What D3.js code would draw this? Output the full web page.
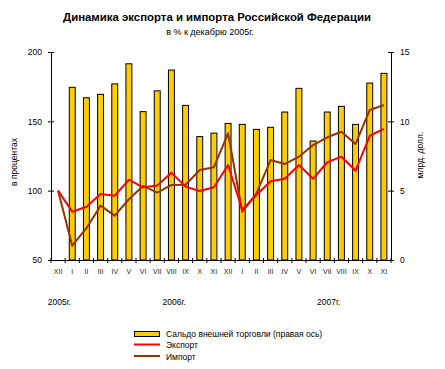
<!DOCTYPE html>
<html><head><meta charset="utf-8">
<script src="https://cdn.jsdelivr.net/npm/d3@7"></script>
<style>body{margin:0;background:#fff}svg{display:block;font-family:"Liberation Sans",Arial,sans-serif}</style>
</head><body>
<script>
const months = ["XII","I","II","III","IV","V","VI","VII","VIII","IX","X","XI","XII","I","II","III","IV","V","VI","VII","VIII","IX","X","XI"];
const yearLabels = [{label:"2005г.", idx:0.6},{label:"2006г.", idx:8.7},{label:"2007г.", idx:19.6}];
// trade balance, bn USD (right axis), from Jan 2006
const balance = [null,12.45,11.7,11.95,12.7,14.15,10.7,12.2,13.7,11.15,8.9,9.15,9.85,9.78,9.42,9.57,10.67,12.38,8.58,10.67,11.08,9.78,12.76,13.46];
const exportIdx = [100,84.8,88.4,97.6,96.4,107.9,102.4,103.8,113,102.9,99.8,102.4,118.5,86.1,96.9,106.8,108.6,118.5,108.6,120.5,124.5,114.4,139.6,144.5];
const importIdx = [100,60.3,72.9,89.2,82.0,93.8,103.4,98.6,104.1,104.3,114.9,116.9,141.4,84.8,98.1,122.1,119.2,124.5,132.9,138.5,142.5,133.7,158.2,161.8];
const leftTicks = [50,100,150,200];
const rightTicks = [0,5,10,15];

const W=445,H=369;
const svg=d3.select("body").append("svg").attr("width",W).attr("height",H);
const L=51,R=391,T=52,B=260;
const idx=d3.range(months.length);
const x=d3.scaleBand().domain(idx).range([L,R]).padding(0);
const xb=d3.scaleBand().domain(idx).range([L,R]).paddingInner(0.58).paddingOuter(0.29);
const yL=d3.scaleLinear().domain([50,200]).range([B,T]);
const yR=d3.scaleLinear().domain([0,15]).range([B,T]);

// title
svg.append("text").attr("x",217).attr("y",21).attr("text-anchor","middle").attr("font-size","11.4px").attr("font-weight","bold").text("Динамика экспорта и импорта Российской Федерации");
svg.append("text").attr("x",210).attr("y",35).attr("text-anchor","middle").attr("font-size","9px").text("в % к декабрю 2005г.");

// bars
svg.append("g").selectAll("rect").data(idx.filter(i=>balance[i]!=null)).join("rect")
 .attr("x",i=>xb(i)).attr("width",xb.bandwidth()).attr("y",i=>yR(balance[i])).attr("height",i=>yR(0)-yR(balance[i]))
 .attr("fill","#ffcc00").attr("stroke","#000").attr("stroke-width",1);

// lines
const line=arr=>d3.line().x((d,i)=>x(i)+x.bandwidth()/2).y(d=>yL(d))(arr);
svg.append("path").attr("d",line(importIdx)).attr("fill","none").attr("stroke","#993300").attr("stroke-width",2).attr("stroke-linejoin","round");
svg.append("path").attr("d",line(exportIdx)).attr("fill","none").attr("stroke","#ff0000").attr("stroke-width",2).attr("stroke-linejoin","round");

// axes
const gl=svg.append("g").attr("transform",`translate(${L},0)`).call(d3.axisLeft(yL).tickValues(leftTicks).tickSize(3).tickSizeOuter(0).tickPadding(6));
gl.selectAll(".tick line").attr("x2",3).attr("x1",-3);
const gr=svg.append("g").attr("transform",`translate(${R},0)`).call(d3.axisRight(yR).tickValues(rightTicks).tickSize(3).tickSizeOuter(0).tickPadding(6));
gr.selectAll(".tick line").attr("x1",-3).attr("x2",3);
[gl,gr].forEach(g=>{g.selectAll("text").attr("font-size","8.5px").attr("font-family","Liberation Sans, Arial, sans-serif").attr("fill","#000");g.select(".domain").attr("stroke","#000");g.selectAll(".tick line").attr("stroke","#000");});

// bottom axis with ticks between categories
const gb=svg.append("g");
gb.append("line").attr("x1",L-3).attr("x2",R+3).attr("y1",B+0.5).attr("y2",B+0.5).attr("stroke","#000");
gb.selectAll("line.t").data(d3.range(months.length+1)).join("line").attr("class","t")
 .attr("x1",i=>i<months.length?x(i):R).attr("x2",i=>i<months.length?x(i):R).attr("y1",B-2).attr("y2",B+3).attr("stroke","#000");
gb.selectAll("text").data(idx).join("text").attr("x",i=>x(i)+x.bandwidth()/2).attr("y",274)
 .attr("text-anchor","middle").attr("font-size","7px").attr("fill","#222").text(i=>months[i]);
svg.append("g").selectAll("text").data(yearLabels).join("text").attr("x",d=>x(0)+d.idx*x.step()).attr("y",305)
 .attr("text-anchor","middle").attr("font-size","8.5px").text(d=>d.label);

// axis titles
svg.append("text").attr("transform","translate(17,162) rotate(-90)").attr("text-anchor","middle").attr("font-size","8.5px").text("в процентах");
svg.append("text").attr("transform","translate(423,155) rotate(-90)").attr("text-anchor","middle").attr("font-size","8.5px").text("млрд. долл.");

// legend
const lg=svg.append("g");
lg.append("rect").attr("x",134.5).attr("y",331.5).attr("width",25).attr("height",5).attr("fill","#ffcc00").attr("stroke","#000");
lg.append("text").attr("x",166).attr("y",337).attr("font-size","8.5px").text("Сальдо внешней торговли (правая ось)");
lg.append("line").attr("x1",134).attr("x2",160).attr("y1",344.5).attr("y2",344.5).attr("stroke","#ff0000").attr("stroke-width",2);
lg.append("text").attr("x",166).attr("y",348).attr("font-size","8.5px").text("Экспорт");
lg.append("line").attr("x1",134).attr("x2",160).attr("y1",356).attr("y2",356).attr("stroke","#993300").attr("stroke-width",2);
lg.append("text").attr("x",166).attr("y",359.5).attr("font-size","8.5px").text("Импорт");
</script>
</body></html>
